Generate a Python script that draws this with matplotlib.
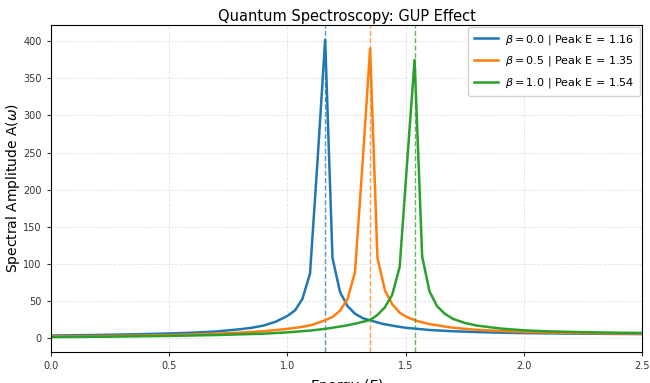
import matplotlib
matplotlib.use("Agg")
import matplotlib.pyplot as plt

# Blue: beta = 0.0
e_b0 = [0.0, 0.1, 0.2, 0.3, 0.4, 0.5, 0.6, 0.7, 0.8, 0.85, 0.9, 0.95, 1.001, 1.033, 1.064,
        1.096, 1.128, 1.160, 1.191, 1.223, 1.255, 1.286, 1.318, 1.35, 1.4, 1.45, 1.5, 1.6,
        1.7, 1.8, 1.9, 2.0, 2.1, 2.2, 2.3, 2.4, 2.5]
a_b0 = [3.5, 3.9, 4.3, 4.9, 5.5, 6.3, 7.4, 9.0, 12.0, 14.0, 17.0, 22.0, 30.0, 37.5, 53.0,
        87.0, 240.0, 402.0, 108.0, 62.0, 43.0, 33.0, 27.0, 24.0, 19.5, 16.5, 14.0, 11.0,
        9.3, 8.2, 7.4, 6.8, 6.4, 6.1, 5.9, 5.7, 5.5]

# Orange: beta = 0.5
e_b5 = [0.0, 0.2, 0.4, 0.5, 0.6, 0.7, 0.8, 0.9, 1.0, 1.05, 1.1, 1.16, 1.191, 1.223, 1.255,
        1.286, 1.318, 1.350, 1.381, 1.413, 1.445, 1.476, 1.508, 1.55, 1.6, 1.7, 1.8, 1.9,
        2.0, 2.1, 2.2, 2.3, 2.4, 2.5]
a_b5 = [2.3, 2.8, 3.6, 4.2, 5.0, 6.0, 7.4, 9.3, 12.5, 14.5, 17.5, 24.0, 28.5, 37.0, 53.0,
        89.0, 235.0, 390.0, 108.0, 64.0, 45.0, 34.0, 28.0, 23.0, 19.0, 14.0, 11.2, 9.6,
        8.4, 7.6, 7.0, 6.6, 6.3, 6.1]

# Green: beta = 1.0
e_b1 = [0.0, 0.25, 0.5, 0.7, 0.9, 1.0, 1.1, 1.16, 1.25, 1.3, 1.35, 1.380, 1.411, 1.443,
        1.475, 1.506, 1.538, 1.570, 1.601, 1.633, 1.665, 1.70, 1.75, 1.8, 1.9, 2.0, 2.1,
        2.2, 2.3, 2.4, 2.5]
a_b1 = [1.4, 2.0, 3.0, 4.2, 6.0, 7.8, 10.3, 12.5, 17.0, 20.5, 24.5, 31.0, 41.0, 58.0,
        96.0, 235.0, 375.0, 110.0, 63.0, 43.0, 33.0, 26.0, 20.5, 17.0, 13.0, 10.5, 9.2,
        8.4, 7.8, 7.3, 7.0]

peaks = [1.16, 1.35, 1.54]
betas = [0.0, 0.5, 1.0]
colors = ["#1f77b4", "#ff7f0e", "#2ca02c"]

fig = plt.figure(figsize=(6.5, 3.83), dpi=100)
ax = fig.add_axes([0.078, 0.081, 0.910, 0.854])

series = [(e_b0, a_b0), (e_b5, a_b5), (e_b1, a_b1)]
for (e, a), b, p, c in zip(series, betas, peaks, colors):
    ax.plot(e, a, color=c, lw=1.8, label=rf"$\beta = {b:.1f}$ | Peak E = {p:.2f}")
    ax.axvline(p, color=c, ls="--", lw=1.0, alpha=0.75)

ax.set_xlim(0, 2.5)
ax.set_xticks([0.0, 0.5, 1.0, 1.5, 2.0, 2.5])
ax.set_yticks(range(0, 401, 50))
ax.tick_params(labelsize=7, colors="#333333", length=3)
ax.grid(True, ls="--", alpha=0.35, lw=0.6)
ax.set_title("Quantum Spectroscopy: GUP Effect", fontsize=10.5, pad=3)
ax.set_xlabel("Energy ($E$)", fontsize=10, labelpad=4)
ax.set_ylabel(r"Spectral Amplitude A($\omega$)", fontsize=10, labelpad=1)
ax.legend(loc="upper right", fontsize=8, framealpha=0.9, handlelength=2.2,
          handletextpad=0.65, labelspacing=0.7, borderpad=0.5, borderaxespad=0.2)

fig.savefig("out.png", dpi=100)
